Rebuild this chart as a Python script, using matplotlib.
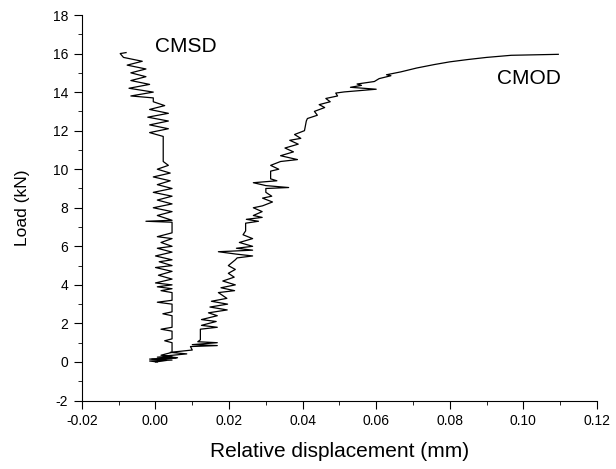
import matplotlib
matplotlib.use('Agg')
import matplotlib.pyplot as plt
from matplotlib.ticker import MultipleLocator, FormatStrFormatter

plt.rcParams['font.family'] = ['Liberation Sans', 'DejaVu Sans']
plt.rcParams['axes.unicode_minus'] = False

# CMSD curve (displacement in mm, load in kN)
cmsd_x = [0.0005, -0.0016, 0.0045, -0.0016, 0.0056, 0.0005, 0.0045, 0.0015, 0.0045, 0.0045,
          0.0025, 0.0045, 0.0045, 0.0015, 0.0045, 0.0045, 0.0020, 0.0045, 0.0045, 0.0005,
          0.0045, 0.0045, 0.0015, 0.0045, 0.0005, 0.0045, 0.0000, 0.0045, 0.0008, 0.0045,
          0.0000, 0.0045, 0.0010, 0.0045, 0.0000, 0.0045, 0.0005, 0.0045, 0.0015, 0.0045,
          0.0005, 0.0045, 0.0045, -0.0026, 0.0045, 0.0005, 0.0045, -0.0006, 0.0045, 0.0005,
          0.0045, -0.0006, 0.0045, 0.0005, 0.0040, -0.0006, 0.0040, 0.0005, 0.0035, 0.0021,
          0.0021, -0.0016, 0.0035, -0.0016, 0.0035, -0.0021, 0.0035, -0.0016, 0.0025, -0.0006,
          -0.0006, -0.0067, -0.0006, -0.0072, -0.0016, -0.0067, -0.0026, -0.0067, -0.0026, -0.0077,
          -0.0036, -0.0087, -0.0096, -0.0080]
cmsd_load = [0.00, 0.05, 0.10, 0.15, 0.20, 0.25, 0.30, 0.35, 0.50, 1.00,
             1.10, 1.20, 1.60, 1.70, 1.80, 2.40, 2.50, 2.60, 3.00, 3.10,
             3.20, 3.60, 3.70, 3.80, 3.90, 4.00, 4.10, 4.30, 4.50, 4.70,
             4.90, 5.00, 5.20, 5.30, 5.50, 5.70, 5.90, 6.00, 6.20, 6.40,
             6.50, 6.70, 7.25, 7.30, 7.35, 7.60, 7.80, 8.00, 8.20, 8.40,
             8.60, 8.80, 9.00, 9.20, 9.40, 9.60, 9.80, 10.00, 10.20, 10.40,
             11.70, 11.90, 12.10, 12.30, 12.50, 12.70, 12.90, 13.10, 13.30, 13.50,
             13.70, 13.80, 14.00, 14.20, 14.40, 14.60, 14.80, 15.00, 15.20, 15.40,
             15.60, 15.80, 16.00, 16.05]

# CMOD curve
cmod_x = [0.0000, 0.0030, -0.0010, 0.0060, 0.0020, 0.0085, 0.0040, 0.0100, 0.0095, 0.0168,
          0.0100, 0.0168, 0.0115, 0.0122, 0.0122, 0.0168, 0.0125, 0.0165, 0.0125, 0.0168,
          0.0144, 0.0195, 0.0148, 0.0196, 0.0152, 0.0194, 0.0171, 0.0215, 0.0178, 0.0217,
          0.0183, 0.0214, 0.0198, 0.0217, 0.0198, 0.0217, 0.0222, 0.0264, 0.0218, 0.0171,
          0.0264, 0.0220, 0.0264, 0.0228, 0.0264, 0.0238, 0.0245, 0.0245, 0.0280, 0.0247,
          0.0290, 0.0266, 0.0290, 0.0266, 0.0291, 0.0318, 0.0291, 0.0316, 0.0300, 0.0300,
          0.0362, 0.0300, 0.0266, 0.0330, 0.0313, 0.0313, 0.0335, 0.0313, 0.0340, 0.0386,
          0.0340, 0.0375, 0.0352, 0.0388, 0.0365, 0.0395, 0.0378, 0.0405, 0.0410, 0.0413,
          0.0440, 0.0432, 0.0460, 0.0445, 0.0475, 0.0463, 0.0495, 0.0490, 0.0513, 0.0600,
          0.0530, 0.0560, 0.0548, 0.0595, 0.0608, 0.0640, 0.0628, 0.0667, 0.0710, 0.0758,
          0.0800, 0.0849, 0.0900, 0.0967, 0.1095]
cmod_load = [0.00, 0.08, 0.15, 0.22, 0.30, 0.42, 0.50, 0.62, 0.80, 0.85,
             0.90, 1.00, 1.05, 1.15, 1.70, 1.80, 1.90, 2.10, 2.20, 2.40,
             2.55, 2.70, 2.85, 3.00, 3.15, 3.30, 3.60, 3.70, 3.85, 4.00,
             4.20, 4.40, 4.60, 4.80, 5.00, 5.30, 5.40, 5.50, 5.60, 5.72,
             5.80, 5.90, 6.00, 6.20, 6.40, 6.60, 6.80, 7.20, 7.30, 7.40,
             7.50, 7.60, 7.80, 8.00, 8.10, 8.30, 8.50, 8.60, 8.80, 9.00,
             9.05, 9.15, 9.30, 9.40, 9.50, 9.90, 10.00, 10.20, 10.40, 10.50,
             10.70, 10.90, 11.10, 11.30, 11.50, 11.60, 11.80, 12.00, 12.50, 12.63,
             12.80, 13.00, 13.20, 13.35, 13.50, 13.67, 13.80, 13.95, 14.01, 14.15,
             14.25, 14.35, 14.42, 14.55, 14.70, 14.85, 14.90, 15.05, 15.25, 15.43,
             15.57, 15.69, 15.80, 15.91, 15.96]

fig = plt.figure(figsize=(6.16, 4.69), dpi=100)
ax = fig.add_axes([0.133, 0.146, 0.836, 0.822])

ax.plot(cmsd_x, cmsd_load, color='black', lw=0.9)
ax.plot(cmod_x, cmod_load, color='black', lw=0.9)

ax.text(0.0, 16.35, 'CMSD', fontsize=15, va='center', ha='left')
ax.text(0.0929, 14.72, 'CMOD', fontsize=15, va='center', ha='left')

ax.set_xlim(-0.02, 0.12)
ax.set_ylim(-2, 18)
ax.xaxis.set_major_locator(MultipleLocator(0.02))
ax.xaxis.set_minor_locator(MultipleLocator(0.01))
ax.yaxis.set_major_locator(MultipleLocator(2))
ax.yaxis.set_minor_locator(MultipleLocator(1))
ax.xaxis.set_major_formatter(FormatStrFormatter('%.2f'))

for s in ['top', 'right']:
    ax.spines[s].set_visible(False)
ax.tick_params(which='major', direction='out', length=6, labelsize=10, pad=4)
ax.tick_params(which='minor', direction='out', length=3)

ax.set_xlabel('Relative displacement (mm)', fontsize=15, labelpad=10)
ax.set_ylabel('Load (kN)', fontsize=12.5, labelpad=16)

fig.savefig('out.png', dpi=100)
